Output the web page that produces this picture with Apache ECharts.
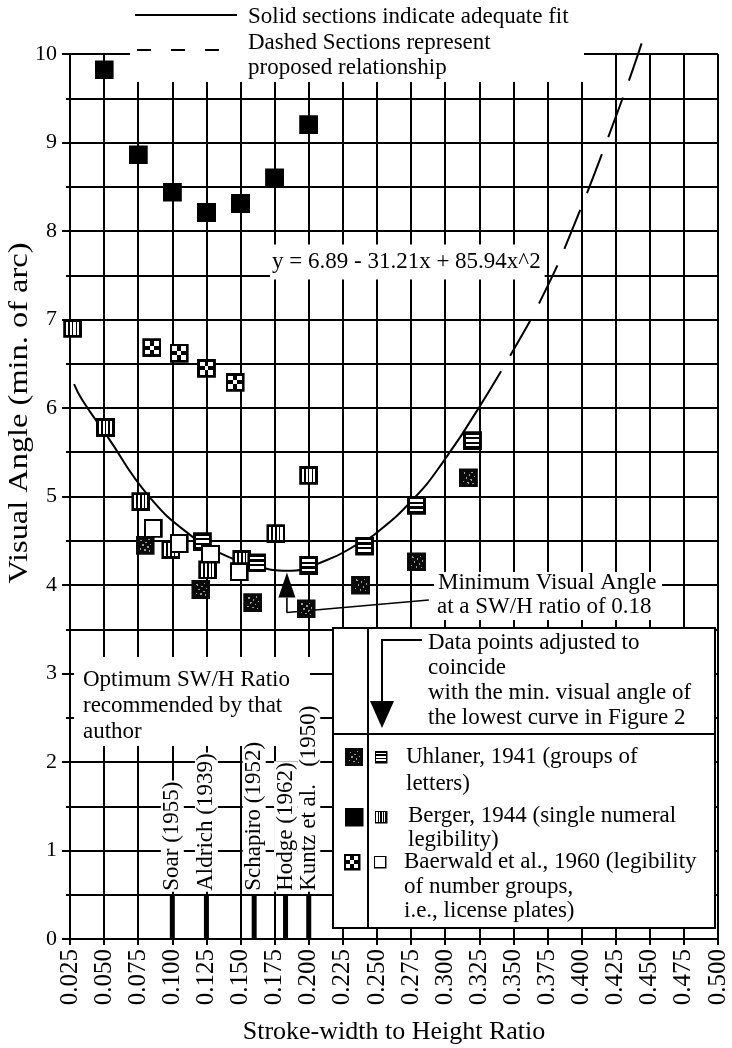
<!DOCTYPE html>
<html>
<head>
<meta charset="utf-8">
<script src="https://cdn.jsdelivr.net/npm/echarts@6/dist/echarts.min.js"></script>
<style>
  html, body { margin: 0; padding: 0; background: #fff; }
  #chart { width: 732px; height: 1048px; }
</style>
</head>
<body>
<div id="chart"></div>
<script>
// ---- data ---------------------------------------------------------------
// Uhlaner, 1941 (groups of letters): original and adjusted points
const uhlanerRaw = [[0.080, 4.45], [0.121, 3.95], [0.159, 3.80], [0.198, 3.73], [0.238, 4.00], [0.279, 4.26], [0.317, 5.21]];
const uhlanerAdj = [[0.122, 4.49], [0.162, 4.25], [0.200, 4.22], [0.241, 4.44], [0.279, 4.90], [0.320, 5.63]];
// Berger, 1944 (single numeral legibility)
const bergerRaw = [[0.050, 9.82], [0.075, 8.86], [0.100, 8.44], [0.125, 8.21], [0.150, 8.31], [0.175, 8.60], [0.200, 9.20]];
const bergerAdj = [[0.027, 6.90], [0.051, 5.78], [0.077, 4.94], [0.099, 4.40], [0.126, 4.17], [0.151, 4.29], [0.176, 4.58], [0.200, 5.24]];
// Baerwald et al., 1960 (number groups / license plates)
const baerwaldRaw = [[0.085, 6.68], [0.105, 6.62], [0.125, 6.45], [0.146, 6.29]];
const baerwaldAdj = [[0.086, 4.64], [0.105, 4.47], [0.128, 4.35], [0.149, 4.15]];
// fitted curve: solid where the fit is adequate, dashed where proposed
const fitSolid = [[0.028, 6.27], [0.034, 6.09], [0.051, 5.71], [0.0835, 4.99], [0.116, 4.53], [0.135, 4.36], [0.159, 4.23], [0.184, 4.16], [0.213, 4.28], [0.237, 4.47], [0.249, 4.58], [0.276, 4.96], [0.298, 5.38], [0.325, 6.01]];
const fitDashed = [[0.325, 6.01], [0.348, 6.60], [0.371, 7.25], [0.393, 8.01], [0.427, 9.37], [0.444, 10.12]];
// optimum SW/H ratio recommended by each author
const authorNames = ['Soar (1955)', 'Aldrich (1939)', 'Schapiro (1952)', 'Hodge (1962)', 'Kuntz et al.   (1950)'];
const authorRatios = [0.100, 0.125, 0.160, 0.183, 0.200];
const authorMarkHeight = 0.5;
// minimum of the curve and its call-out leader
const minPoint = [[0.184, 4.0]];
const minLeader = [[0.184, 3.86], [0.184, 3.69], [0.288, 3.83]];
const equationText = 'y = 6.89 - 31.21x + 85.94x^2';

// ---- marker artwork ----------------------------------------------------
const SERIF = '"Liberation Serif", "Times New Roman", serif';
function svgUrl(inner) {
  return 'data:image/svg+xml;charset=utf-8,' + encodeURIComponent(
    '<svg xmlns="http://www.w3.org/2000/svg" width="20" height="20" viewBox="0 0 20 20" shape-rendering="crispEdges">' + inner + '</svg>');
}
const ART = {
  solid: svgUrl('<rect x="0" y="0" width="20" height="20" fill="#000"/>'),
  open: svgUrl('<rect x="1.2" y="1.2" width="17.6" height="17.6" fill="#fff" stroke="#000" stroke-width="2.4"/>'),
  hstripe: svgUrl('<rect x="0" y="0" width="20" height="20" fill="#000"/>' +
    '<rect x="3" y="3.6" width="14" height="2.4" fill="#fff"/>' +
    '<rect x="3" y="8.6" width="14" height="2.4" fill="#fff"/>' +
    '<rect x="3" y="13.6" width="14" height="2.4" fill="#fff"/>'),
  vstripe: svgUrl('<rect x="0" y="0" width="20" height="20" fill="#000"/>' +
    '<rect x="3" y="3" width="2.2" height="14" fill="#fff"/>' +
    '<rect x="6.9" y="3" width="2.2" height="14" fill="#fff"/>' +
    '<rect x="10.8" y="3" width="2.2" height="14" fill="#fff"/>' +
    '<rect x="14.7" y="3" width="2.2" height="14" fill="#fff"/>'),
  checker: svgUrl('<rect x="0" y="0" width="20" height="20" fill="#000"/>' +
    '<rect x="3" y="3" width="5" height="5" fill="#fff"/>' +
    '<rect x="12" y="3" width="5" height="5" fill="#fff"/>' +
    '<rect x="3" y="12" width="5" height="5" fill="#fff"/>' +
    '<rect x="12" y="12" width="5" height="5" fill="#fff"/>' +
    '<rect x="8" y="8" width="4" height="4" fill="#fff"/>'),
  speckle: svgUrl('<rect x="0" y="0" width="20" height="20" fill="#0a0a0a"/>' +
    '<g fill="#9a9a9a"><circle cx="6" cy="5" r="1"/><circle cx="11" cy="7" r="0.9"/><circle cx="14" cy="4" r="0.8"/>' +
    '<circle cx="8" cy="10" r="1"/><circle cx="13" cy="12" r="0.9"/><circle cx="5" cy="14" r="0.8"/>' +
    '<circle cx="10" cy="15" r="1"/><circle cx="15" cy="16" r="0.8"/><circle cx="16" cy="9" r="0.7"/></g>')
};

function scatter(name, data, art, size) {
  return {
    name: name, type: 'scatter', data: data,
    symbol: 'image://' + art, symbolSize: size || 19,
    itemStyle: { opacity: 1 },
    z: 4, silent: true
  };
}

// ---- chart -------------------------------------------------------------
const chart = echarts.init(document.getElementById('chart'), null, { renderer: 'canvas' });

const txt = (text, x, y, extra) => Object.assign({
  type: 'text', z: 6,
  style: Object.assign({ text: text, x: x, y: y, fill: '#000', font: '23px ' + SERIF, verticalAlign: 'middle' }, extra || {})
});
const img = (art, cx, cy, s) => ({ type: 'image', z: 7, style: { image: art, x: cx - s / 2, y: cy - s / 2, width: s, height: s } });
const seg = (pts, w, extra) => ({
  type: 'polyline', z: 7, shape: { points: pts },
  style: Object.assign({ stroke: '#000', lineWidth: w || 2, fill: null }, extra || {})
});

const GRID_LINE = { color: '#000', width: 2 };

const option = {
  animation: false,
  backgroundColor: '#fff',
  grid: { left: 70, right: 14, top: 54, bottom: 109, containLabel: false, outerBoundsMode: 'none' },
  xAxis: {
    type: 'value', min: 0.025, max: 0.5, interval: 0.025,
    name: 'Stroke-width to Height Ratio', nameLocation: 'middle', nameGap: 80,
    nameTextStyle: { fontFamily: SERIF, fontSize: 26, color: '#000' },
    axisLine: { show: true, onZero: false, lineStyle: { color: '#000', width: 2 } },
    axisTick: { show: true, length: 6, lineStyle: { color: '#000', width: 2 } },
    axisLabel: { rotate: 90, fontFamily: SERIF, fontSize: 25, color: '#000', margin: 10, formatter: v => v.toFixed(3) },
    splitLine: { show: true, lineStyle: GRID_LINE }
  },
  yAxis: {
    type: 'value', min: 0, max: 10, interval: 1,
    axisLine: { show: true, onZero: false, lineStyle: { color: '#000', width: 2 } },
    axisTick: { show: true, length: 8, lineStyle: { color: '#000', width: 2 } },
    minorTick: { show: true, splitNumber: 2, length: 4, lineStyle: { color: '#000', width: 2 } },
    splitLine: { show: true, lineStyle: GRID_LINE },
    minorSplitLine: { show: true, lineStyle: GRID_LINE },
    axisLabel: { fontFamily: SERIF, fontSize: 22, color: '#000', margin: 13 }
  },
  series: [
    {
      name: 'fit', type: 'line', data: fitSolid, smooth: 0.5, showSymbol: false, silent: true,
      lineStyle: { color: '#000', width: 2 }, z: 3
    },
    {
      name: 'proposed', type: 'line', data: fitDashed, smooth: 0.5, showSymbol: false, silent: true, clip: false,
      lineStyle: { color: '#000', width: 2, type: [42, 18] }, z: 3
    },
    {
      name: 'authors', type: 'bar', barWidth: 5, silent: true, z: 3,
      data: authorRatios.map((r, i) => [r, authorMarkHeight]),
      itemStyle: { color: '#000' },
      label: {
        show: true, position: 'top', rotate: 90, align: 'left', verticalAlign: 'middle', distance: 3,
        formatter: p => authorNames[p.dataIndex],
        fontFamily: SERIF, fontSize: 23, color: '#000', backgroundColor: '#fff', padding: [0, 1]
      }
    },
    {
      name: 'leader', type: 'line', data: minLeader, showSymbol: false, silent: true,
      lineStyle: { color: '#000', width: 1.6 }, z: 3
    },
    {
      name: 'minimum', type: 'scatter', data: minPoint, symbol: 'triangle', symbolSize: [17, 25],
      itemStyle: { color: '#000', opacity: 1 }, silent: true, z: 4
    },
    scatter('Uhlaner original', uhlanerRaw, ART.speckle),
    scatter('Berger original', bergerRaw, ART.solid),
    scatter('Baerwald original', baerwaldRaw, ART.checker),
    scatter('Berger adjusted', bergerAdj, ART.vstripe),
    scatter('Uhlaner adjusted', uhlanerAdj, ART.hstripe),
    scatter('Baerwald adjusted', baerwaldAdj, ART.open)
  ],
  graphic: [
    // header key (white panel over the top of the grid)
    { type: 'rect', z: 1, shape: { x: 130, y: 0, width: 454, height: 82 }, style: { fill: '#fff' } },
    seg([[135, 15], [237, 15]], 2),
    seg([[137, 50], [225, 50]], 2, { lineDash: [14, 20] }),
    txt('Solid sections indicate adequate fit', 248, 17),
    txt('Dashed Sections represent', 248, 43),
    txt('proposed relationship', 248, 68),

    // fitted equation
    txt(equationText, 270, 262, { backgroundColor: '#fff', padding: [6, 4, 6, 2] }),

    // y-axis title
    { type: 'text', z: 6, x: 20, y: 413, rotation: Math.PI / 2, scaleX: 1.2,
      style: { text: 'Visual Angle (min. of arc)', fill: '#000', font: '27px ' + SERIF, align: 'center', verticalAlign: 'middle' } },

    // minimum call-out
    { type: 'rect', z: 1, shape: { x: 434, y: 572, width: 228, height: 48 }, style: { fill: '#fff' } },
    txt('Minimum Visual Angle', 438, 583),
    txt('at a SW/H ratio of 0.18', 437, 607),

    // optimum ratio note
    { type: 'rect', z: 1, shape: { x: 74, y: 657, width: 236, height: 89 }, style: { fill: '#fff' } },
    txt('Optimum SW/H Ratio\nrecommended by that\nauthor', 83, 706, { lineHeight: 26 }),

    // key panel
    { type: 'rect', z: 6, shape: { x: 333, y: 628, width: 382, height: 300 }, style: { fill: '#fff', stroke: '#000', lineWidth: 2 } },
    seg([[368, 628], [368, 928]], 2),
    seg([[333, 734], [715, 734]], 2),
    seg([[422, 640], [382, 640], [382, 704]], 2),
    { type: 'polygon', z: 7, shape: { points: [[370, 701], [394, 701], [382, 728]] }, style: { fill: '#000' } },
    txt('Data points adjusted to\ncoincide\nwith the min. visual angle of\nthe lowest curve in Figure 2', 428, 680, { lineHeight: 25 }),
    img(ART.speckle, 354, 757, 18), img(ART.hstripe, 381, 757, 13),
    txt('Uhlaner, 1941 (groups of', 406, 757),
    txt('letters)', 406, 784),
    img(ART.solid, 354, 817, 19), img(ART.vstripe, 381, 817, 13),
    txt('Berger, 1944 (single numeral', 408, 816),
    txt('legibility)', 408, 840),
    img(ART.checker, 352, 862, 17), img(ART.open, 380, 862, 13),
    txt('Baerwald et al., 1960 (legibility', 404, 862),
    txt('of number groups,', 404, 887),
    txt('i.e., license plates)', 404, 911)
  ]
};

chart.setOption(option);
</script>
</body>
</html>
